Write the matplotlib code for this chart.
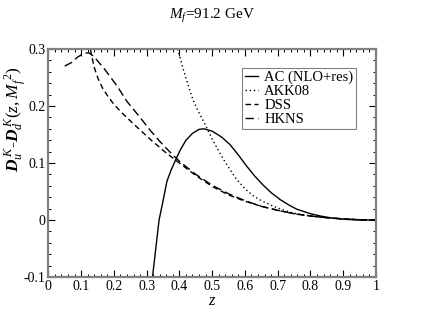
import numpy as np
import matplotlib
matplotlib.use("Agg")
import matplotlib.pyplot as plt
from matplotlib.ticker import MultipleLocator

plt.rcParams['font.family'] = ['Liberation Serif', 'DejaVu Serif']
plt.rcParams['mathtext.fontset'] = 'custom'
plt.rcParams['mathtext.rm'] = 'Liberation Serif'
plt.rcParams['mathtext.it'] = 'Liberation Serif:italic'
plt.rcParams['mathtext.bf'] = 'Liberation Serif:italic:bold'

# Data
ac_z = [0.318, 0.325, 0.331, 0.338, 0.35, 0.362, 0.375, 0.389, 0.402, 0.42, 0.44,
        0.46, 0.475, 0.50, 0.53, 0.555, 0.58, 0.606, 0.63, 0.656, 0.68, 0.707,
        0.735, 0.758, 0.80, 0.83, 0.87, 0.91, 0.95, 1.0]
ac_v = [-0.1, -0.065, -0.035, 0.0, 0.033, 0.068, 0.088, 0.106, 0.122, 0.140, 0.152,
        0.159, 0.160, 0.156, 0.145, 0.132, 0.114, 0.094, 0.077, 0.061, 0.048, 0.036,
        0.026, 0.019, 0.011, 0.007, 0.003, 0.001, 0.0, 0.0]

akk_z = [0.395, 0.41, 0.425, 0.442, 0.458, 0.474, 0.489, 0.50, 0.52, 0.535, 0.555,
         0.575, 0.60, 0.626, 0.65, 0.687, 0.72, 0.748, 0.80, 0.85, 0.90, 0.95, 1.0]
akk_v = [0.30, 0.268, 0.24, 0.21, 0.19, 0.173, 0.155, 0.142, 0.121, 0.106, 0.088,
         0.071, 0.055, 0.042, 0.034, 0.024, 0.017, 0.012, 0.007, 0.004, 0.002, 0.0005, 0.0]

dss_z = [0.125, 0.13, 0.14, 0.152, 0.165, 0.182, 0.20, 0.223, 0.25, 0.28, 0.316,
         0.357, 0.40, 0.45, 0.50, 0.55, 0.60, 0.65, 0.70, 0.75, 0.80, 0.85, 0.90, 0.95, 1.0]
dss_v = [0.315, 0.295, 0.268, 0.248, 0.232, 0.217, 0.203, 0.189, 0.174, 0.158, 0.139,
         0.119, 0.100, 0.078, 0.059, 0.044, 0.033, 0.024, 0.017, 0.011, 0.007, 0.004, 0.002, 0.0005, 0.0]

hkns_z = [0.05, 0.07, 0.09, 0.11, 0.125, 0.14, 0.17, 0.21, 0.24, 0.28, 0.31, 0.34,
          0.37, 0.40, 0.45, 0.50, 0.55, 0.60, 0.65, 0.70, 0.75, 0.80, 0.85, 0.90, 0.95, 1.0]
hkns_v = [0.270, 0.276, 0.286, 0.293, 0.293, 0.286, 0.266, 0.235, 0.208, 0.180, 0.158, 0.138,
          0.120, 0.103, 0.080, 0.061, 0.046, 0.034, 0.024, 0.017, 0.011, 0.007, 0.004, 0.002, 0.0005, 0.0]

labels = ['AC (NLO+res)', 'AKK08', 'DSS', 'HKNS']

fig = plt.figure(figsize=(4.23, 3.27), dpi=100)
ax = fig.add_axes([48.3/423, 1-277/327, (376-48.3)/423, (277-49)/327])

ax.plot(ac_z, ac_v, color='black', lw=1.0, ls='-', label=labels[0])
ax.plot(akk_z, akk_v, color='black', lw=1.0, ls=(0, (1, 2)), label=labels[1])
ax.plot(dss_z, dss_v, color='black', lw=1.0, ls=(0, (4, 2.5)), label=labels[2])
ax.plot(hkns_z, hkns_v, color='black', lw=1.0, ls=(0, (6, 3)), label=labels[3])

ax.set_xlim(0, 1)
ax.set_ylim(-0.1, 0.3)
ax.set_xticks(np.arange(0, 1.01, 0.1))
ax.set_xticklabels(['0', '0.1', '0.2', '0.3', '0.4', '0.5', '0.6', '0.7', '0.8', '0.9', '1'])
ax.set_yticks([-0.1, 0, 0.1, 0.2, 0.3])
ax.set_yticklabels(['-0.1', '0', '0.1', '0.2', '0.3'])
ax.xaxis.set_minor_locator(MultipleLocator(0.02))
ax.yaxis.set_minor_locator(MultipleLocator(0.02))
ax.tick_params(which='both', direction='in', top=True, right=True, labelsize=10, pad=2)
ax.tick_params(which='major', length=5, width=0.8)
ax.tick_params(which='minor', length=2.5, width=0.7)
for s in ax.spines.values():
    s.set_color('#808080')
    s.set_linewidth(1.6)

ax.set_xlabel(r'$z$', fontsize=12, labelpad=0)
ax.set_ylabel(r'$\mathbf{D}_{u}^{\ K}$-$\mathbf{D}_{d}^{\ K}(z,M_f^{\ 2})$', fontsize=12.5)
ax.yaxis.set_label_coords(-0.058, 0.69)
fig.text(0.5, 1-16/327, r'$M_f$=91.2 GeV', ha='center', va='center', fontsize=11)

leg = ax.legend(loc='upper left', bbox_to_anchor=(0.592, 0.917), fontsize=10.5,
                frameon=True, fancybox=False, handlelength=0.9, handletextpad=0.4,
                borderpad=0.2, labelspacing=0.05, borderaxespad=0)
leg.get_frame().set_edgecolor('#606060')
leg.get_frame().set_linewidth(0.8)

fig.savefig('out.png', dpi=100)
